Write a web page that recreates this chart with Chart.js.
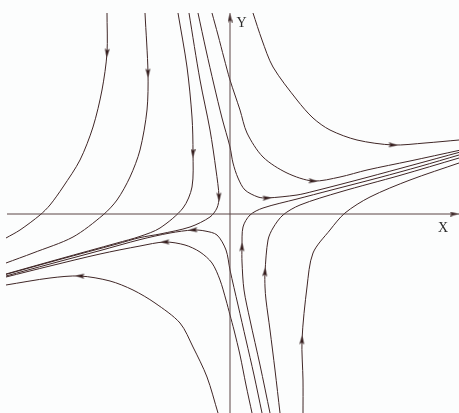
<!DOCTYPE html>
<html>
<head>
<meta charset="utf-8">
<script src="https://cdn.jsdelivr.net/npm/chart.js@4.4.1/dist/chart.umd.min.js"></script>
<style>
  html, body { margin: 0; padding: 0; background: #fcfdfd; }
  #wrap { width: 459px; height: 413px; }
</style>
</head>
<body>
<div id="wrap"><canvas id="chart" width="459" height="413"></canvas></div>
<script>
// ---------- DATA (trajectories of the saddle, listed in flow order) ----------
const curveA = [[-6.15,10.05],[-6.15,8.05],[-6.4,6.2],[-6.85,4.35],[-7.5,2.7],[-8.35,1.35],[-9.0,0.45],[-9.5,-0.05],[-10.5,-0.8],[-11.2,-1.2]];
const curveB = [[-4.25,10.05],[-4.1,7.05],[-4.15,5.2],[-4.5,3.2],[-5.0,1.85],[-5.65,0.7],[-6.35,-0.05],[-7.85,-1.15],[-9.85,-1.95],[-11.2,-2.45]];
const curveC = [[-2.6,10.05],[-2.15,7.35],[-1.9,4.85],[-1.85,3.05],[-1.9,1.35],[-2.35,0.3],[-3.5,-0.7],[-4.5,-1.12],[-5.65,-1.45],[-8.5,-2.24],[-11.2,-3.0]];
const curveD = [[-2.05,10.05],[-1.5,6.7],[-1.0,4.2],[-0.7,2.2],[-0.55,0.85],[-0.65,0.3],[-1.0,-0.15],[-2.0,-0.65],[-3.5,-1.0],[-4.5,-1.18],[-5.65,-1.5],[-8.5,-2.27],[-11.2,-3.02]];
const curveU1 = [[1.15,10.05],[1.6,8.7],[2.15,7.35],[3.35,5.7],[4.15,4.8],[5.0,4.2],[6.35,3.7],[8.15,3.45],[9.75,3.55],[11.45,3.7]];
const curveU2 = [[-0.9,10.05],[-0.6,8.95],[-0.3,7.8],[0,6.7],[0.5,5.2],[0.85,4.05],[1.65,2.85],[2.85,2.05],[4.15,1.65],[5.5,1.85],[6.85,2.2],[9.0,2.65],[11.45,3.18]];
const curveU3 = [[-1.6,10.05],[-1.2,8.2],[-0.8,6.45],[-0.4,4.8],[0,3.35],[0.15,2.55],[0.4,1.8],[0.75,1.2],[1.4,0.85],[1.85,0.8],[3.35,0.95],[4.15,1.13],[6.85,1.83],[11.45,3.08]];
const curveE = [[-0.6,-9.95],[-1.15,-8.15],[-1.85,-6.65],[-2.5,-5.45],[-3.75,-4.45],[-4.85,-3.8],[-6.0,-3.35],[-7.5,-3.1],[-9.0,-3.2],[-11.2,-3.55]];
const curveF = [[1.1,-9.95],[0.8,-8.55],[0.5,-7.05],[0.2,-5.8],[0,-5.05],[-0.2,-4.3],[-0.5,-3.3],[-0.9,-2.45],[-1.5,-1.9],[-2.25,-1.55],[-3.25,-1.4],[-4.5,-1.6],[-6.5,-2.0],[-9.0,-2.6],[-11.2,-3.15]];
const curveG = [[1.6,-9.95],[1.2,-8.05],[0.8,-6.3],[0.4,-4.55],[0,-2.8],[-0.2,-1.8],[-0.65,-1.05],[-1.25,-0.85],[-1.85,-0.8],[-3.0,-0.95],[-4.5,-1.28],[-6.5,-1.83],[-9.0,-2.5],[-11.2,-3.1]];
const curveB1 = [[2.0,-9.95],[1.5,-7.55],[1.0,-5.3],[0.7,-3.8],[0.6,-2.4],[0.6,-1.65],[0.65,-0.65],[1.0,-0.05],[1.65,0.3],[3.35,0.75],[5.0,1.18],[7.5,1.83],[9.5,2.38],[11.45,2.95]];
const curveB2 = [[2.5,-9.95],[2.25,-7.8],[2.0,-5.8],[1.8,-4.3],[1.75,-3.65],[1.75,-2.9],[1.9,-1.3],[2.15,-0.7],[2.65,-0.05],[3.5,0.45],[5.5,1.1],[8.5,1.93],[11.45,2.8]];
const curveB3 = [[3.65,-9.95],[3.65,-8.3],[3.6,-6.3],[3.85,-3.65],[4.15,-1.95],[5.0,-0.8],[5.75,0.05],[7.0,0.85],[9.0,1.7],[11.45,2.55]];

const axisX = [[-11.15,0],[11.2,0],[11.45,0]];
const axisY = [[0,-9.95],[0,9.8],[0,10.05]];

const curves = [curveA, curveB, curveC, curveD, curveU1, curveU2, curveU3,
                curveE, curveF, curveG, curveB1, curveB2, curveB3];
const axes = [axisX, axisY];
const allLines = curves.concat(axes);

// arrow heads: [line index, point index]
const arrowAt = [[0,1],[1,1],[2,3],[3,4],[4,7],[5,8],[6,9],[7,7],[8,10],[9,8],[10,5],[11,5],[12,2],[13,1],[14,1]];

const xRange = [-11.2, 11.45];
const yRange = [-9.95, 10.05];

// ---------- ESTILO ----------
const lineColor = '#3f2626';
const axisColor = '#5b4444';

function toXY(pts) {
  return pts.map(p => ({ x: p[0], y: p[1] }));
}

// little arrow head image (points up, rotated per point)
function makeArrow() {
  const c = document.createElement('canvas');
  c.width = 5; c.height = 9;
  const g = c.getContext('2d');
  g.fillStyle = '#2a1414';
  g.beginPath();
  g.moveTo(2.5, 0);
  g.lineTo(5, 9);
  g.lineTo(2.5, 7);
  g.lineTo(0, 9);
  g.closePath();
  g.fill();
  return c;
}
const arrowImg = makeArrow();

function arrowRotation(ctx) {
  if (ctx.type !== 'data') return 0;
  const [li, pi] = arrowAt[ctx.dataIndex];
  const pts = allLines[li];
  const a = pts[Math.max(pi - 1, 0)];
  const b = pts[Math.min(pi + 1, pts.length - 1)];
  const sx = ctx.chart.scales.x, sy = ctx.chart.scales.y;
  const dx = sx.getPixelForValue(b[0]) - sx.getPixelForValue(a[0]);
  const dy = sy.getPixelForValue(b[1]) - sy.getPixelForValue(a[1]);
  return Math.atan2(dy, dx) * 180 / Math.PI + 90;
}

const datasets = [];
axes.forEach(pts => {
  datasets.push({ data: toXY(pts), showLine: true, borderColor: axisColor, borderWidth: 1,
    pointRadius: 0, tension: 0, clip: false });
});
curves.forEach(pts => {
  datasets.push({ data: toXY(pts), showLine: true, borderColor: lineColor, borderWidth: 1,
    pointRadius: 0, tension: 0.3, clip: false });
});
datasets.push({
  data: arrowAt.map(([li, pi]) => ({ x: allLines[li][pi][0], y: allLines[li][pi][1] })),
  showLine: false,
  pointStyle: arrowImg,
  rotation: arrowRotation,
  pointRadius: 4,
  clip: false
});

const axisLabels = {
  id: 'axisLabels',
  afterDraw(chart) {
    const { ctx, scales: { x, y } } = chart;
    ctx.save();
    ctx.font = '14px "Liberation Serif", "DejaVu Serif", serif';
    ctx.fillStyle = '#2a2a2a';
    ctx.textAlign = 'center';
    ctx.textBaseline = 'middle';
    ctx.fillText('X', x.getPixelForValue(10.65), y.getPixelForValue(-0.7));
    ctx.fillText('Y', x.getPixelForValue(0.58), y.getPixelForValue(9.55));
    ctx.restore();
  }
};

new Chart(document.getElementById('chart'), {
  type: 'scatter',
  data: { datasets },
  options: {
    responsive: false,
    animation: false,
    devicePixelRatio: 1,
    layout: { autoPadding: false, padding: { left: 6, top: 13, right: 0, bottom: 0 } },
    plugins: { legend: { display: false }, tooltip: { enabled: false } },
    scales: {
      x: { type: 'linear', min: xRange[0], max: xRange[1], display: false },
      y: { type: 'linear', min: yRange[0], max: yRange[1], display: false }
    }
  },
  plugins: [axisLabels]
});
</script>
</body>
</html>
